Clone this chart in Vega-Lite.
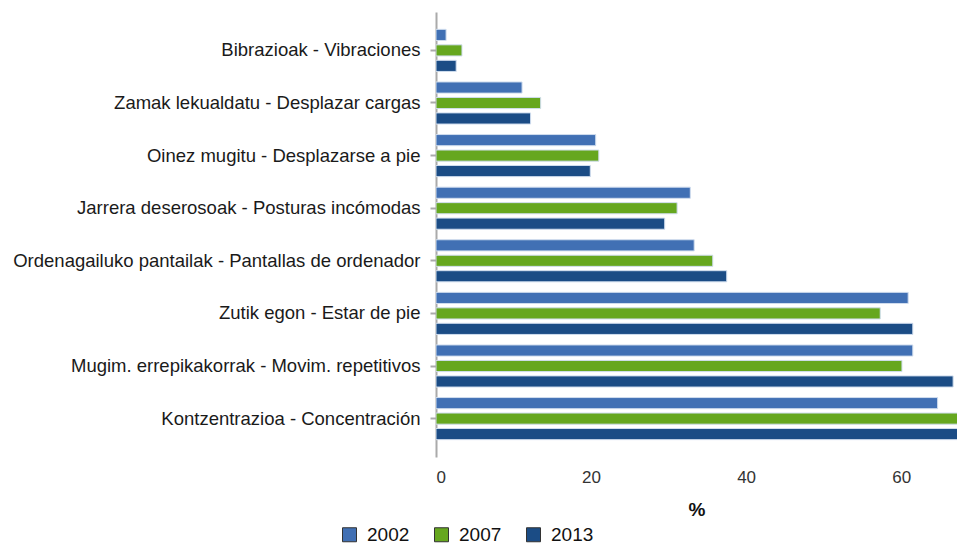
{
  "$schema": "https://vega.github.io/schema/vega-lite/v6.json",
  "autosize": "none",
  "padding": {"left": 436, "top": 12, "right": 0, "bottom": 87},
  "width": 521,
  "height": 445,
  "background": "white",
  "config": {"view": {"stroke": null}, "font": "Liberation Sans"},
  "data": {"values": [
    {"cat": "Bibrazioak - Vibraciones", "year": "2002", "v": 1.3},
    {"cat": "Bibrazioak - Vibraciones", "year": "2007", "v": 3.35},
    {"cat": "Bibrazioak - Vibraciones", "year": "2013", "v": 2.6},
    {"cat": "Zamak lekualdatu - Desplazar cargas", "year": "2002", "v": 11.1},
    {"cat": "Zamak lekualdatu - Desplazar cargas", "year": "2007", "v": 13.5},
    {"cat": "Zamak lekualdatu - Desplazar cargas", "year": "2013", "v": 12.2},
    {"cat": "Oinez mugitu - Desplazarse a pie", "year": "2002", "v": 20.6},
    {"cat": "Oinez mugitu - Desplazarse a pie", "year": "2007", "v": 21.0},
    {"cat": "Oinez mugitu - Desplazarse a pie", "year": "2013", "v": 19.9},
    {"cat": "Jarrera deserosoak - Posturas incómodas", "year": "2002", "v": 32.8},
    {"cat": "Jarrera deserosoak - Posturas incómodas", "year": "2007", "v": 31.1},
    {"cat": "Jarrera deserosoak - Posturas incómodas", "year": "2013", "v": 29.5},
    {"cat": "Ordenagailuko pantailak - Pantallas de ordenador", "year": "2002", "v": 33.3},
    {"cat": "Ordenagailuko pantailak - Pantallas de ordenador", "year": "2007", "v": 35.7},
    {"cat": "Ordenagailuko pantailak - Pantallas de ordenador", "year": "2013", "v": 37.5},
    {"cat": "Zutik egon - Estar de pie", "year": "2002", "v": 60.9},
    {"cat": "Zutik egon - Estar de pie", "year": "2007", "v": 57.3},
    {"cat": "Zutik egon - Estar de pie", "year": "2013", "v": 61.5},
    {"cat": "Mugim. errepikakorrak - Movim. repetitivos", "year": "2002", "v": 61.5},
    {"cat": "Mugim. errepikakorrak - Movim. repetitivos", "year": "2007", "v": 60.1},
    {"cat": "Mugim. errepikakorrak - Movim. repetitivos", "year": "2013", "v": 66.7},
    {"cat": "Kontzentrazioa - Concentración", "year": "2002", "v": 64.7},
    {"cat": "Kontzentrazioa - Concentración", "year": "2007", "v": 70},
    {"cat": "Kontzentrazioa - Concentración", "year": "2013", "v": 69}
  ]},
  "mark": {"type": "bar", "clip": true, "stroke": "#d0ddee", "strokeWidth": 1},
  "encoding": {
    "y": {
      "field": "cat", "type": "nominal", "sort": null,
      "scale": {"paddingInner": 0.2, "paddingOuter": 0.33},
      "axis": {
        "title": null, "labelFontSize": 18.5, "labelColor": "#1a1a1a",
        "labelPadding": 10, "tickColor": "#aaaaaa", "tickSize": 6, "tickWidth": 2,
        "domainColor": "#aaaaaa", "domainWidth": 2, "labelLimit": 600
      }
    },
    "yOffset": {"field": "year", "type": "nominal", "scale": {"paddingInner": 0.28, "paddingOuter": 0}},
    "x": {
      "field": "v", "type": "quantitative",
      "scale": {"domain": [0, 67.2], "nice": false, "zero": true},
      "axis": {
        "title": "%", "titleFontSize": 19, "titleFontWeight": "bold", "titleColor": "#111",
        "titlePadding": 15, "values": [0, 20, 40, 60], "grid": false, "domain": false,
        "ticks": false, "labelFontSize": 17, "labelColor": "#333333", "labelPadding": 12
      }
    },
    "color": {
      "field": "year", "type": "nominal",
      "scale": {"domain": ["2002", "2007", "2013"], "range": ["#4170b4", "#66a71f", "#1b4c85"]},
      "legend": {
        "title": null, "orient": "none", "direction": "horizontal",
        "legendX": -96, "legendY": 513,
        "symbolType": "square", "symbolSize": 196, "symbolStrokeColor": "#333333",
        "symbolStrokeWidth": 1, "labelFontSize": 19, "labelColor": "#111", "columnPadding": 22, "labelOffset": 8
      }
    }
  }
}
